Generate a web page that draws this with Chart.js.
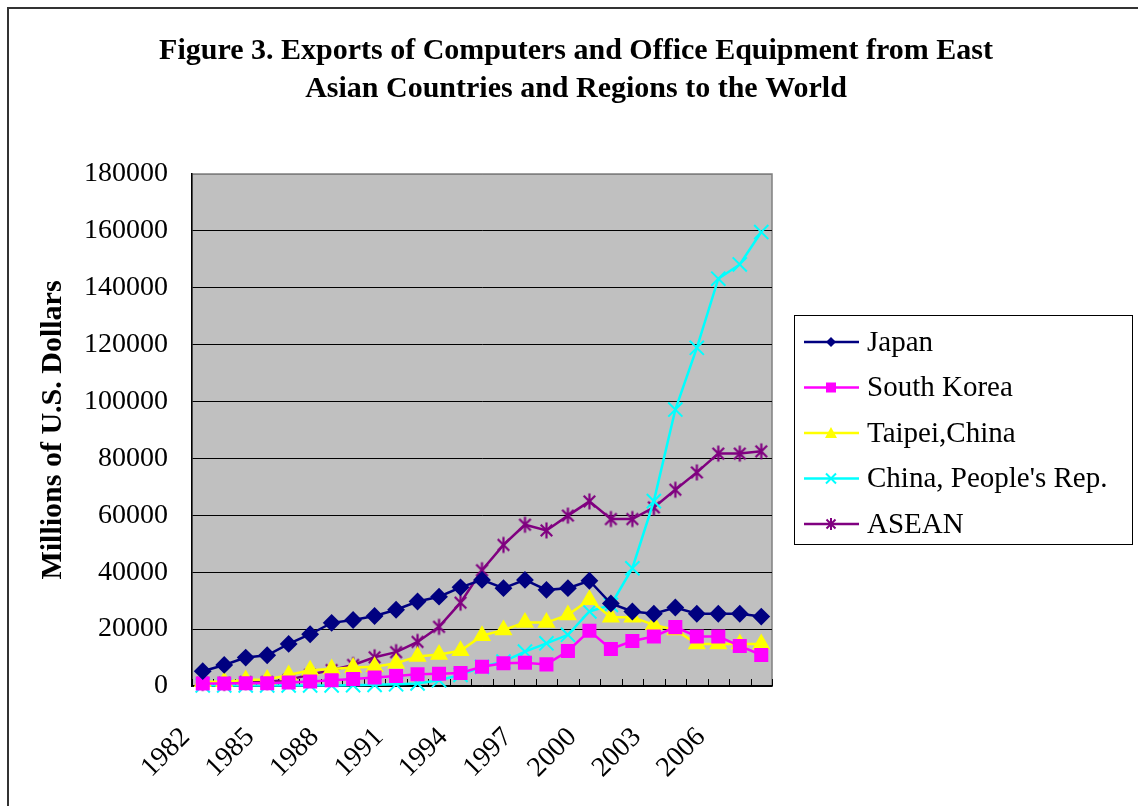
<!DOCTYPE html>
<html>
<head>
<meta charset="utf-8">
<title>Figure 3. Exports of Computers and Office Equipment</title>
<script src="https://cdn.jsdelivr.net/npm/chart.js@4.4.1/dist/chart.umd.min.js"></script>
<style>
  html, body { margin: 0; padding: 0; background: #fff; }
  #wrap { width: 1138px; height: 806px; }
</style>
</head>
<body>
<div id="wrap"><canvas id="exportsChart" width="1138" height="806"></canvas></div>
<script>
/* ── Data (millions of U.S. dollars) ─────────────────────────────────────── */
const years = ['1982', '1983', '1984', '1985', '1986', '1987', '1988', '1989', '1990',
  '1991', '1992', '1993', '1994', '1995', '1996', '1997', '1998', '1999', '2000',
  '2001', '2002', '2003', '2004', '2005', '2006', '2007', '2008'];

const japan      = [5200, 7400, 10000, 10800, 14800, 18200, 22200, 23200, 24600, 26800, 29700, 31400, 34700,
                    37300, 34400, 37300, 33800, 34400, 37000, 29000, 26200, 25400, 27600, 25400, 25400, 25400, 24400];
const southKorea = [900, 900, 1000, 1000, 1200, 1600, 2000, 2500, 3000, 3500, 4100, 4300, 4600,
                    6800, 8000, 8200, 7600, 12300, 19400, 13000, 15800, 17400, 20700, 17400, 17400, 14100, 10900];
const taipei     = [1500, 1500, 2100, 2300, 3900, 5500, 6000, 6500, 6800, 8000, 10400, 11100, 12400,
                    17700, 19700, 22300, 22300, 25000, 30300, 24200, 24200, 21500, 19700, 14800, 14800, 14800, 14800];
const china      = [200, 200, 200, 200, 200, 200, 200, 300, 400, 600, 900, 2000, 3900,
                    6700, 8600, 12100, 15000, 18000, 26200, 28500, 41400, 65000, 97200, 118900, 143200, 148200, 159600];
const asean      = [1100, 1100, 1400, 1400, 2200, 4000, 5600, 7400, 10100, 11900, 15500, 20800, 29300,
                    40700, 49600, 56700, 54700, 59900, 64900, 58700, 58700, 62800, 69000, 75100, 81700, 81700, 82500];

const yTicks = [0, 20000, 40000, 60000, 80000, 100000, 120000, 140000, 160000, 180000];

const TITLE_LINES = ['Figure 3. Exports of Computers and Office Equipment from East',
                     'Asian Countries and Regions to the World'];
const Y_TITLE = 'Millions of U.S. Dollars';

const COLORS = {
  japan : '#000080',
  korea : '#ff00ff',
  taipei: '#ffff00',
  china : '#00ffff',
  asean : '#800080',
  plot  : '#c0c0c0',
  frame : '#808080',
};

const SERIF = "'Liberation Serif', 'Times New Roman', serif";

/* Excel-style asterisk marker: an X plus a vertical bar */
function asteriskMarker(color, size) {
  const c = document.createElement('canvas');
  c.width = c.height = size;
  const g = c.getContext('2d');
  const h = size / 2, r = h - 1.5, d = r * 0.72;
  g.strokeStyle = color;
  g.lineWidth = 2.2;
  g.beginPath();
  g.moveTo(h - d, h - d); g.lineTo(h + d, h + d);
  g.moveTo(h + d, h - d); g.lineTo(h - d, h + d);
  g.moveTo(h, h - r);     g.lineTo(h, h + r);
  g.stroke();
  return c;
}

function series(label, data, color, style, radius) {
  return {
    label,
    data,
    borderColor         : color,
    backgroundColor     : color,
    pointBackgroundColor: color,
    pointBorderColor    : color,
    pointStyle          : style,
    pointRadius         : radius,
    pointBorderWidth    : 2,
    borderWidth         : 2.5,
    tension             : 0,
    clip                : false,
  };
}

const datasets = [
  series('Japan', japan, COLORS.japan, 'rectRot', 7.5),
  series('South Korea', southKorea, COLORS.korea, 'rect', 8.5),
  series('Taipei,China', taipei, COLORS.taipei, 'triangle', 8.5),
  series("China, People's Rep.", china, COLORS.china, 'crossRot', 10),
  series('ASEAN', asean, COLORS.asean, asteriskMarker(COLORS.asean, 19), 9),
];

/* ── Small legend glyphs ─────────────────────────────────────────────────── */
function drawGlyph(ctx, style, x, y, color) {
  ctx.save();
  ctx.fillStyle = color;
  ctx.strokeStyle = color;
  ctx.lineWidth = 2;
  ctx.beginPath();
  if (style === 'rectRot') {
    ctx.moveTo(x - 5, y); ctx.lineTo(x, y - 5); ctx.lineTo(x + 5, y); ctx.lineTo(x, y + 5);
    ctx.closePath(); ctx.fill();
  } else if (style === 'rect') {
    ctx.rect(x - 5, y - 5, 10, 10); ctx.fill();
  } else if (style === 'triangle') {
    ctx.moveTo(x, y - 6); ctx.lineTo(x + 6, y + 5); ctx.lineTo(x - 6, y + 5);
    ctx.closePath(); ctx.fill();
  } else if (style === 'crossRot') {
    ctx.moveTo(x - 5, y - 5); ctx.lineTo(x + 5, y + 5);
    ctx.moveTo(x + 5, y - 5); ctx.lineTo(x - 5, y + 5);
    ctx.stroke();
  } else {
    ctx.moveTo(x - 4.5, y - 4.5); ctx.lineTo(x + 4.5, y + 4.5);
    ctx.moveTo(x + 4.5, y - 4.5); ctx.lineTo(x - 4.5, y + 4.5);
    ctx.moveTo(x, y - 6); ctx.lineTo(x, y + 6);
    ctx.stroke();
  }
  ctx.restore();
}

/* ── Decoration plugin: plot fill, inside ticks, title, legend, frame ────── */
const decor = {
  id: 'decor',
  beforeDraw(chart) {
    const { ctx, chartArea: a } = chart;
    ctx.save();
    ctx.fillStyle = '#fff';
    ctx.fillRect(0, 0, chart.width, chart.height);
    ctx.fillStyle = COLORS.plot;
    ctx.fillRect(a.left, a.top, a.right - a.left, a.bottom - a.top);
    ctx.strokeStyle = COLORS.frame;
    ctx.lineWidth = 1.5;
    ctx.strokeRect(a.left, a.top, a.right - a.left, a.bottom - a.top);
    ctx.restore();
  },
  beforeDatasetsDraw(chart) {
    const { ctx } = chart;
    const x = chart.scales.x;
    ctx.save();
    ctx.strokeStyle = '#000';
    ctx.lineWidth = 1;
    ctx.beginPath();
    for (let k = 0; k <= years.length; k++) {
      const px = Math.round(x.getPixelForDecimal(k / years.length)) + 0.5;
      ctx.moveTo(px, x.top);
      ctx.lineTo(px, x.top - 7);
    }
    ctx.stroke();
    ctx.restore();
  },
  afterDraw(chart) {
    const { ctx } = chart;
    ctx.save();

    // outer frame (top + left edges visible)
    ctx.strokeStyle = '#333';
    ctx.lineWidth = 2;
    ctx.beginPath();
    ctx.moveTo(8, chart.height);
    ctx.lineTo(8, 8);
    ctx.lineTo(chart.width, 8);
    ctx.stroke();

    // title
    ctx.fillStyle = '#000';
    ctx.font = `bold 30px ${SERIF}`;
    ctx.textAlign = 'center';
    ctx.textBaseline = 'middle';
    TITLE_LINES.forEach((t, i) => ctx.fillText(t, 576, 51 + i * 38));

    // legend
    const box = { left: 794, top: 315, right: 1132, bottom: 544 };
    ctx.fillStyle = '#fff';
    ctx.fillRect(box.left, box.top, box.right - box.left, box.bottom - box.top);
    ctx.strokeStyle = '#000';
    ctx.lineWidth = 1;
    ctx.strokeRect(box.left + 0.5, box.top + 0.5, box.right - box.left, box.bottom - box.top);
    ctx.font = `29px ${SERIF}`;
    ctx.textAlign = 'left';
    chart.data.datasets.forEach((ds, i) => {
      const y = 342 + i * 45.5;
      ctx.strokeStyle = ds.borderColor;
      ctx.lineWidth = 2.5;
      ctx.beginPath();
      ctx.moveTo(804, y);
      ctx.lineTo(859, y);
      ctx.stroke();
      const style = typeof ds.pointStyle === 'string' ? ds.pointStyle : 'asterisk';
      drawGlyph(ctx, style, 831, y, ds.borderColor);
      ctx.fillStyle = '#000';
      ctx.fillText(ds.label, 867, y + 1);
    });
    ctx.restore();
  },
};

/* ── Chart ───────────────────────────────────────────────────────────────── */
new Chart(document.getElementById('exportsChart'), {
  type: 'line',
  data: { labels: years, datasets },
  plugins: [decor],
  options: {
    responsive: false,
    animation: false,
    events: [],
    layout: { padding: { left: 20, top: 174, right: 366, bottom: 0 } },
    plugins: { legend: { display: false }, title: { display: false }, tooltip: { enabled: false } },
    scales: {
      x: {
        type: 'category',
        offset: true,
        grid: { display: false, drawTicks: false },
        border: { display: true, color: '#000', width: 1.5 },
        ticks: {
          autoSkip: false,
          maxRotation: 45,
          minRotation: 45,
          padding: 35,
          labelOffset: -17,
          color: '#000',
          font: { family: SERIF, size: 28 },
          callback: (v, i) => (i % 3 === 0 ? years[i] : ''),
        },
        afterFit: (s) => { s.height = 120; },
      },
      y: {
        min: yTicks[0],
        max: yTicks[yTicks.length - 1],
        afterBuildTicks: (s) => { s.ticks = yTicks.map(v => ({ value: v })); },
        grid: {
          drawTicks: false,
          color: (c) => (c.tick && c.tick.value === yTicks[yTicks.length - 1] ? COLORS.frame : '#000'),
          lineWidth: 1,
        },
        border: { display: true, color: '#000', width: 1.5 },
        ticks: {
          padding: 24,
          color: '#000',
          font: { family: SERIF, size: 28 },
          callback: (v) => String(v),
        },
        title: {
          display: true,
          text: Y_TITLE,
          color: '#000',
          font: { family: SERIF, size: 30, weight: 'bold' },
          padding: { top: 15, bottom: 0 },
        },
        afterFit: (s) => { s.width = 172; },
      },
    },
  },
});
</script>
</body>
</html>
